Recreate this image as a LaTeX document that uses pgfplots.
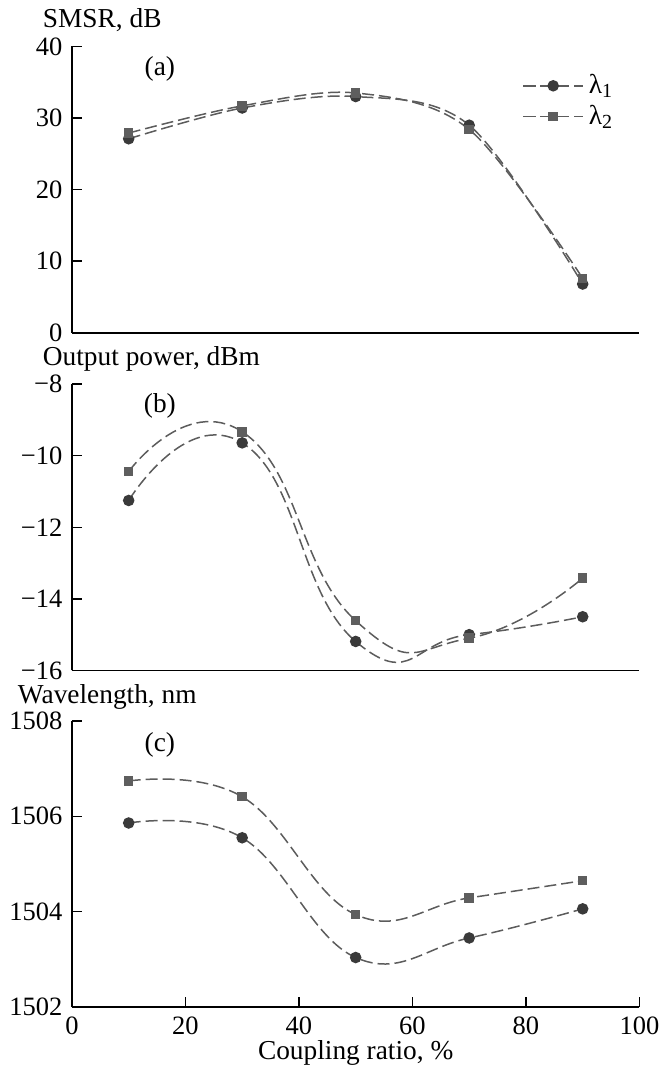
\documentclass[11pt,border=0pt]{standalone}
\usepackage{pgfplots}
\pgfplotsset{compat=1.18}
\usepackage{fontspec}
\setmainfont{Liberation Serif}

\definecolor{dotc}{HTML}{3A3A3A}
\definecolor{sqc}{HTML}{5E5E5E}
\definecolor{linec}{HTML}{5C5C5C}

\pgfplotsset{
  panel/.style={
    scale only axis,
    width=227.2pt, height=114.6pt,
    anchor=south west,
    xmin=0, xmax=100,
    axis x line=bottom, axis y line=left,
    axis line style={-, line width=0.7pt},
    tick align=inside,
    major tick length=4pt,
    tick style={line width=0.6pt, black},
    tick label style={font=\fontsize{10.6}{12}\selectfont},
    /pgf/number format/assume math mode=true,
    /pgf/number format/1000 sep={},
    clip=false,
    every axis y label/.style={at={(axis description cs:0,1)}, anchor=base west, inner sep=1pt, xshift=-12.8pt, yshift=7.6pt},
    every axis x label/.style={at={(axis description cs:0.5,0)}, anchor=base, inner sep=1pt, yshift=-21pt},
  },
  l1/.style={color=linec, line width=0.6pt, dash pattern=on 4.8pt off 2pt, smooth, tension=0.7,
    mark=*, mark size=2pt, mark options={solid, fill=dotc, draw=dotc}},
  l2/.style={color=linec, line width=0.6pt, dash pattern=on 4.8pt off 2pt, smooth, tension=0.7,
    mark=square*, mark size=1.6pt, mark options={solid, fill=sqc, draw=sqc}},
}

\begin{document}
\begin{tikzpicture}
\path (-28.8pt,-24pt) rectangle (239.2pt,403.2pt);

% (a) SMSR
\begin{axis}[panel, at={(0pt,270pt)},
    ymin=0, ymax=40, ytick={0,10,20,30,40},
    xtick=\empty,
    ylabel={SMSR, dB},
    legend style={at={(0.78,0.94)}, anchor=north west, draw=none, fill=none,
      row sep=-1pt},
    legend cell align=left,
    legend image code/.code={\draw[mark repeat=2,mark phase=2,#1] plot coordinates {(0cm,0cm) (0.42cm,0cm) (0.84cm,0cm)};},
]
\addplot[l1, tension=0.55] coordinates {(10,27.1) (30,31.4) (50,33.0) (70,29.0) (90,6.8)};
\addlegendentry{λ\textsubscript{1}}
\addplot[l2, tension=0.55] coordinates {(10,27.9) (30,31.7) (50,33.5) (70,28.4) (90,7.6)};
\addlegendentry{λ\textsubscript{2}}
\node at (axis cs:15.5,36.8) {(a)};
\end{axis}

% (b) output power
\begin{axis}[panel, at={(0pt,134.8pt)},
    ymin=-16, ymax=-8, ytick={-16,-14,-12,-10,-8},
    yticklabels={−16,−14,−12,−10,−8},
    xtick=\empty,
    ylabel={Output power, dBm},
]
\addplot[l1, tension=0.9] coordinates {(10,-11.25) (30,-9.64) (50,-15.19) (70,-15.0) (90,-14.5)};
\addplot[l2, tension=0.9] coordinates {(10,-10.44) (30,-9.33) (50,-14.61) (70,-15.1) (90,-13.42)};
\node at (axis cs:15.5,-8.61) {(b)};
\end{axis}

% (c) wavelength
\begin{axis}[panel, at={(0pt,0pt)},
    ymin=1502, ymax=1508, ytick={1502,1504,1506,1508},
    xtick={0,20,40,60,80,100},
    ylabel={Wavelength, nm},
    xlabel={Coupling ratio, \%},
    every axis y label/.append style={xshift=-10pt, yshift=-0.8pt},
]
\addplot[l1] coordinates {(10,1505.86) (30,1505.55) (50,1503.04) (70,1503.45) (90,1504.06)};
\addplot[l2] coordinates {(10,1506.74) (30,1506.41) (50,1503.94) (70,1504.29) (90,1504.65)};
\node at (axis cs:15.5,1507.5) {(c)};
\end{axis}
\end{tikzpicture}
\end{document}
